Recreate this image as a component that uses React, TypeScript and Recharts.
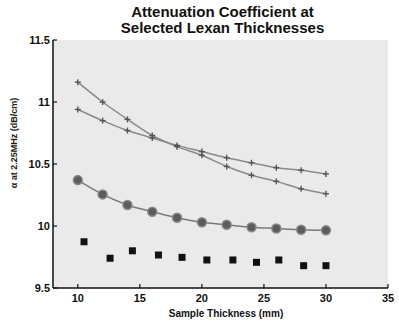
import React from 'react'
import { ComposedChart, Line, Scatter, XAxis, YAxis, CartesianGrid } from 'recharts'

/* Attenuation coefficient vs. sample thickness, Lexan at 2.25 MHz */

const thickness = [10, 12, 14, 16, 18, 20, 22, 24, 26, 28, 30]
// two cross-marked curves
const alphaSteep = [11.16, 11.0, 10.86, 10.73, 10.64, 10.57, 10.48, 10.41, 10.36, 10.3, 10.26]
const alphaShallow = [10.94, 10.85, 10.77, 10.71, 10.65, 10.6, 10.55, 10.51, 10.47, 10.45, 10.42]
// circle series
const alphaCircle = [10.37, 10.255, 10.17, 10.115, 10.067, 10.03, 10.01, 9.99, 9.98, 9.97, 9.965]
// square (measured) points
const squareThickness = [10.5, 12.6, 14.4, 16.5, 18.4, 20.4, 22.5, 24.4, 26.2, 28.2, 30.0]
const squareAlpha = [9.873, 9.74, 9.8, 9.766, 9.747, 9.726, 9.726, 9.707, 9.726, 9.68, 9.68]

const xTicks = [10, 15, 20, 25, 30, 35]
const yTicks = [9.5, 10, 10.5, 11, 11.5]

const steepData = thickness.map((x, i) => ({ x, y: alphaSteep[i] }))
const shallowData = thickness.map((x, i) => ({ x, y: alphaShallow[i] }))
const circleData = thickness.map((x, i) => ({ x, y: alphaCircle[i] }))
const squareData = squareThickness.map((x, i) => ({ x, y: squareAlpha[i] }))

const FONT = '"Liberation Sans", Arial, sans-serif'

function CrossDot(props: any) {
  const { cx, cy } = props
  if (cx == null || cy == null) return null
  return (
    <g stroke="#555" strokeWidth={1.4}>
      <line x1={cx - 3} y1={cy} x2={cx + 3} y2={cy} />
      <line x1={cx} y1={cy - 3} x2={cx} y2={cy + 3} />
    </g>
  )
}

function SquareDot(props: any) {
  const { cx, cy } = props
  if (cx == null || cy == null) return null
  return <rect x={cx - 3.5} y={cy - 3.5} width={7} height={7} fill="#111" />
}

export default function App() {
  const tickStyle = { fontSize: 11, fontWeight: 700, fill: '#111', fontFamily: FONT }
  return (
    <div style={{ position: 'absolute', left: 0, top: 0, width: 399, height: 323, background: '#fff', fontFamily: FONT }}>
      <div style={{ position: 'absolute', left: 100, width: 245, top: 4, textAlign: 'center', fontSize: 15, fontWeight: 700, lineHeight: '16px', color: '#111' }}>
        Attenuation Coefficient at
        <br />
        Selected Lexan Thicknesses
      </div>
      <ComposedChart width={399} height={323} margin={{ top: 40, right: 11, bottom: 0, left: 0 }}>
        <CartesianGrid fill="#eaeaea" stroke="none" horizontal={false} vertical={false} />
        <XAxis
          type="number"
          dataKey="x"
          domain={[8, 35]}
          ticks={xTicks}
          allowDataOverflow
          height={35}
          tickSize={-4}
          tickMargin={10}
          tick={tickStyle}
          axisLine={{ stroke: '#111', strokeWidth: 1.5 }}
          tickLine={{ stroke: '#111', strokeWidth: 1.2 }}
        />
        <YAxis
          type="number"
          dataKey="y"
          domain={[9.5, 11.5]}
          ticks={yTicks}
          allowDataOverflow
          width={53}
          tickSize={-4}
          tickMargin={7}
          tick={tickStyle}
          axisLine={{ stroke: '#111', strokeWidth: 1.5 }}
          tickLine={{ stroke: '#111', strokeWidth: 1.2 }}
        />
        <Line
          data={steepData}
          dataKey="y"
          type="monotone"
          stroke="#8a8a8a"
          strokeWidth={1.5}
          dot={<CrossDot />}
          activeDot={false}
          isAnimationActive={false}
        />
        <Line
          data={shallowData}
          dataKey="y"
          type="monotone"
          stroke="#8a8a8a"
          strokeWidth={1.5}
          dot={<CrossDot />}
          activeDot={false}
          isAnimationActive={false}
        />
        <Line
          data={circleData}
          dataKey="y"
          type="monotone"
          stroke="#7a7a7a"
          strokeWidth={1.5}
          dot={{ r: 4.5, fill: '#5c5c5c', stroke: '#8a8a8a', strokeWidth: 1.5 }}
          activeDot={false}
          isAnimationActive={false}
        />
        <Scatter data={squareData} dataKey="y" shape={<SquareDot />} isAnimationActive={false} />
      </ComposedChart>
      <div style={{ position: 'absolute', left: 120, width: 212, top: 308, textAlign: 'center', fontSize: 10, fontWeight: 700, lineHeight: '12px', color: '#111' }}>
        Sample Thickness (mm)
      </div>
      <div
        style={{
          position: 'absolute',
          left: 14,
          top: 143,
          transform: 'translate(-50%, -50%) rotate(-90deg)',
          whiteSpace: 'nowrap',
          fontSize: 9,
          fontWeight: 700,
          color: '#222',
        }}
      >
        α at 2.25MHz (dB/cm)
      </div>
    </div>
  )
}
